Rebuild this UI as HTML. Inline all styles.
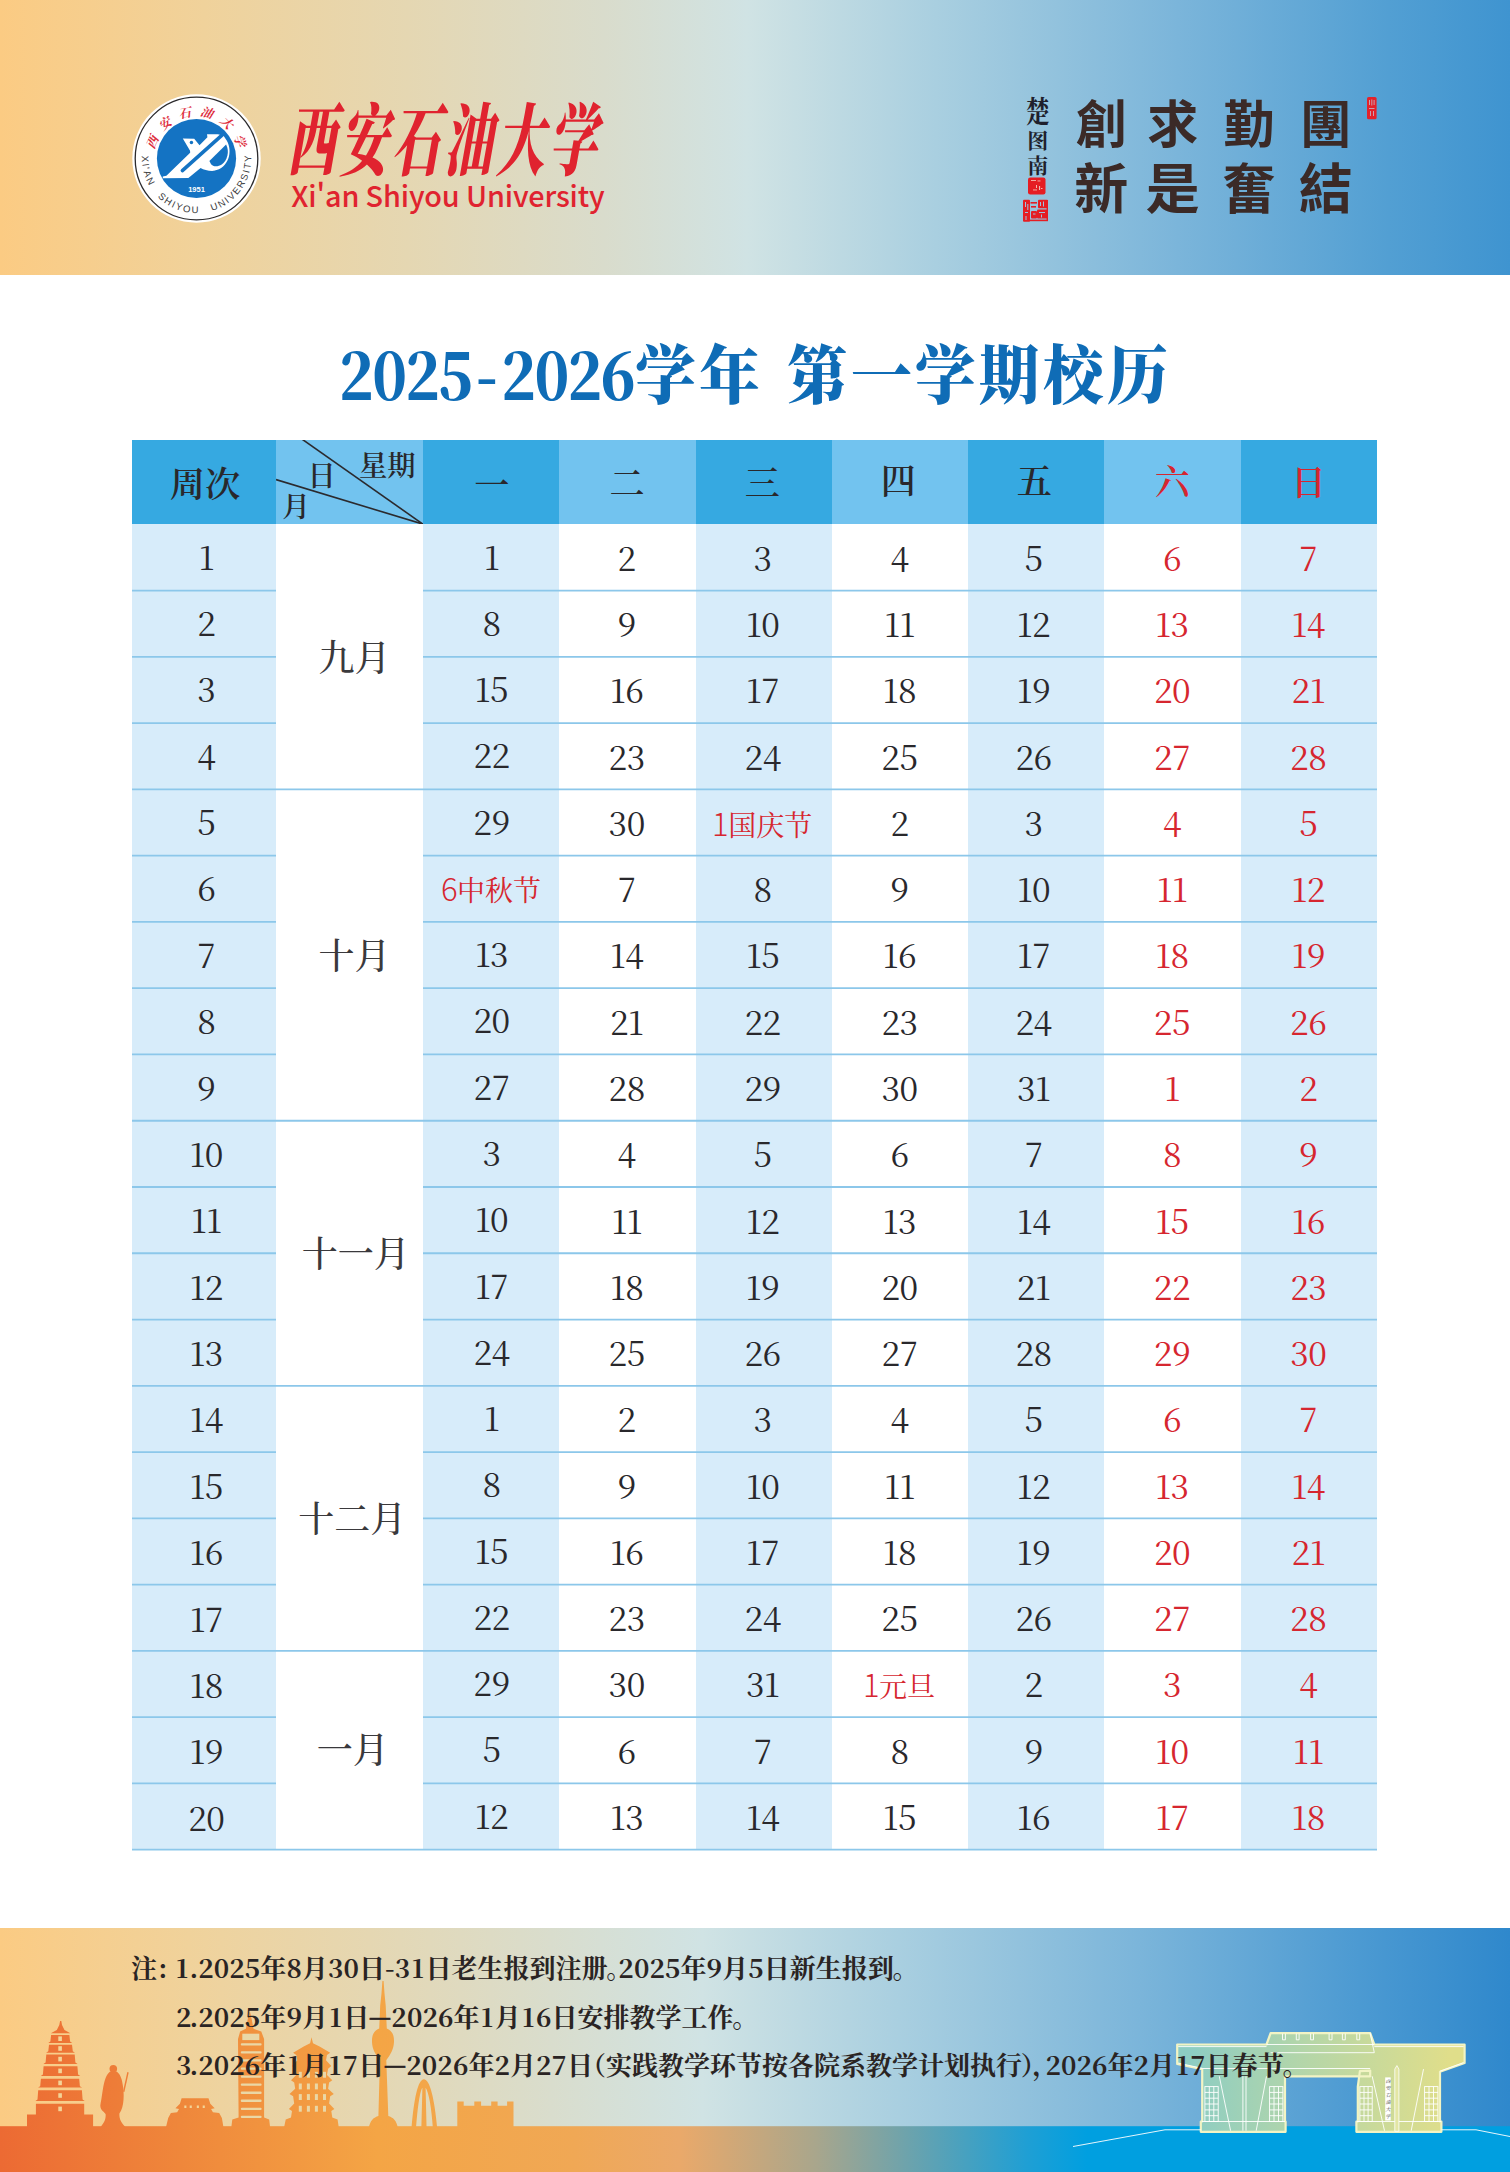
<!DOCTYPE html>
<html lang="zh-CN">
<head>
<meta charset="utf-8">
<title>西安石油大学 2025-2026学年 第一学期校历</title>
<style>
html,body{margin:0;padding:0;}
body{width:1510px;height:2172px;position:relative;overflow:hidden;background:#fff;
 font-family:"Noto Serif CJK SC","Liberation Serif",serif;color:#231f20;}
.abs{position:absolute;}
#banner{left:0;top:0;width:1510px;height:274.5px;background:linear-gradient(90deg,#fbcb83 0%,#f0d29b 13.5%,#e5d7b2 27%,#d9dccc 40%,#d0e3e4 49.5%,#a9cfe0 62%,#7bb5da 78%,#529fd3 92%,#3f94d0 100%);}
#foot{left:0;top:1928px;width:1510px;height:244px;background:linear-gradient(90deg,#fbcb83 0%,#f0d29b 12.5%,#e5d7b2 24.5%,#d9ddcd 36.5%,#d0e3e4 46.5%,#a9cfe0 59.5%,#7bb5da 75.5%,#4c9ad2 90%,#2f88cc 100%);}
#title{left:0;top:320px;width:1510px;height:100px;color:#0f6cb6;font-weight:900;white-space:nowrap;}
#title span{position:absolute;top:0;height:100px;line-height:100px;transform-origin:0 50%;white-space:pre;}
#title .t1{left:338.5px;top:1.6px;font-size:64px;letter-spacing:-1.9px;transform:scaleX(0.888);}
#title .t1 .hy{position:static;margin:0 6px 0 5px;}
#title .t2{left:635px;font-size:64px;letter-spacing:3.3px;transform:scaleX(0.95);}
#title .t3{left:787px;font-size:64px;letter-spacing:3.3px;transform:scaleX(0.95);}
.c{position:absolute;text-align:center;white-space:nowrap;}
.d{font-size:33.4px;font-weight:400;color:#29282c;letter-spacing:-0.5px;text-indent:-0.5px;}
.h{font-size:35px;font-weight:600;color:#29282c;}
.w{font-size:35.3px;font-weight:600;}
.m{font-size:36px;font-weight:500;color:#3a393c;}
.r{color:#d6262f;}
.hn{font-family:"Noto Sans CJK SC","Liberation Sans",sans-serif;font-weight:300;font-size:31px;}
.hc{font-size:28px;font-weight:400;letter-spacing:0;}
.mt{width:80px;height:80px;line-height:80px;text-align:center;font-size:51px;font-weight:700;color:#3b2a27;font-family:"Noto Sans CJK TC","Noto Sans CJK SC","Liberation Sans",sans-serif;}
.sg{width:30px;height:30px;line-height:30px;text-align:center;font-size:23px;font-weight:700;color:#1f1f2c;}
.note{position:absolute;left:176px;font-size:26px;font-weight:700;color:#2a2423;white-space:nowrap;line-height:40px;height:40px;}
.note .n{letter-spacing:0.1px;}
.note .o{display:inline-block;width:15.2px;text-align:center;}
.note .k{font-weight:700;-webkit-text-stroke:0.5px #2a2423;display:inline-block;transform:scaleX(0.93) translateY(-1.1px);margin:0 -1px;}
.note .p{display:inline-block;}
</style>
</head>
<body>
<div id="banner" class="abs"></div>

<svg class="abs" style="left:126px;top:88px" width="141" height="141" viewBox="126 88 141 141">
<circle cx="196.5" cy="158.5" r="64.2" fill="#ffffff"/>
<circle cx="196.5" cy="158.5" r="61.3" fill="#ffffff" stroke="#2b2a2c" stroke-width="1.3"/>
<circle cx="196.5" cy="158.5" r="39.6" fill="#1473c3"/>
<g transform="translate(155 118) scale(0.05563)">
<path fill="#ffffff" d="M500,368 L705,375 L800,492 L942,345 L935,290 L1132,290 L1180,305 L1232,320 L1292,410 C1400,600 1330,900 1060,950 C960,955 880,935 820,900 L600,1078 L140,1082 L140,1052 L205,1040 L632,625 L630,590 Z"/>
<path fill="none" stroke="#1473c3" stroke-width="64" stroke-linecap="round" d="M492,945 L1215,300"/>
<path fill="#1473c3" d="M978,772 L1278,478 C1345,600 1300,770 1200,835 C1130,880 1040,875 1008,830 Z"/>
<circle cx="655" cy="440" r="31" fill="#1473c3"/>
</g>
<text x="196.5" y="192.3" text-anchor="middle" font-family="'Liberation Sans',sans-serif" font-weight="700" font-size="7.5" fill="#ffffff">1951</text>
<path id="arcb" fill="none" d="M143.76,144.37 A54.6,54.6 0 1 0 249.24,144.37"/>
<path id="arct" fill="none" d="M154.10,158.50 A42.4,42.4 0 0 1 238.90,158.50"/>
<text font-family="'Liberation Sans',sans-serif" font-size="9.6" fill="#3a3a3c" letter-spacing="1.68" word-spacing="7.8"><textPath href="#arcb" startOffset="100.91" text-anchor="middle">XI'AN SHIYOU UNIVERSITY</textPath></text>
<text font-family="'Noto Serif CJK SC','Liberation Serif',serif" font-size="12.4" font-weight="700" font-style="italic" fill="#dd2a3a" letter-spacing="7.9"><textPath href="#arct" startOffset="69.20" text-anchor="middle">西安石油大学</textPath></text>
</svg>
<div class="abs" id="uname" style="left:292.5px;top:85.5px;width:330px;height:100px;line-height:100px;font-size:48px;font-weight:900;color:#e0232f;white-space:nowrap;transform-origin:0 50%;transform:skewX(-10deg) scaleY(1.64);letter-spacing:4.2px;">西安石油大学</div>
<div class="abs" id="ename" style="left:291.3px;top:175.2px;width:330px;height:40px;line-height:40px;font-size:28.8px;font-weight:500;letter-spacing:-0.13px;font-family:'Noto Sans CJK SC','Liberation Sans',sans-serif;color:#e0232f;white-space:nowrap;">Xi'an Shiyou University</div>
<div class="abs mt" style="left:1061.3px;top:81px">創</div>
<div class="abs mt" style="left:1132.8px;top:81px">求</div>
<div class="abs mt" style="left:1209.0px;top:81px">勤</div>
<div class="abs mt" style="left:1285.8px;top:81px">團</div>
<div class="abs mt" style="left:1061.3px;top:145.5px;font-size:54px">新</div>
<div class="abs mt" style="left:1132.8px;top:145.5px;font-size:54px">是</div>
<div class="abs mt" style="left:1209.0px;top:145.5px;font-size:54px">奮</div>
<div class="abs mt" style="left:1285.8px;top:145.5px;font-size:54px">結</div>
<div class="abs sg" style="left:1022.8px;top:94.2px;font-size:24px;transform:scaleY(1.25)">楚</div>
<div class="abs sg" style="left:1022.8px;top:123.5px;font-size:21px;transform:scaleY(1.0)">图</div>
<div class="abs sg" style="left:1022.8px;top:149.2px;font-size:21px;transform:scaleY(1.0)">南</div>
<svg class="abs" style="left:1020px;top:175px" width="32" height="50" viewBox="1020 175 32 50"><rect x="1028" y="177.4" width="17.5" height="17" rx="2.2" fill="#e51d23"/><g fill="#f3b9b0"><rect x="1031" y="180" width="5" height="0.9"/><rect x="1037.5" y="180.5" width="3" height="0.9"/><rect x="1036" y="185" width="1" height="3"/><rect x="1039" y="186" width="1.1" height="4"/><rect x="1033" y="189.5" width="4" height="0.9"/><rect x="1041" y="188" width="1.5" height="1"/></g><g fill="#e51d23"><rect x="1023" y="199.8" width="7" height="22" rx="1"/><rect x="1038" y="199.8" width="10" height="8.5" rx="1"/><rect x="1037" y="209.5" width="11" height="9" rx="1"/><rect x="1031" y="211" width="6" height="7.5" rx="1"/><rect x="1030.5" y="202" width="6.5" height="1.6"/><rect x="1031" y="206" width="5" height="1.6"/><rect x="1029" y="219.6" width="19" height="1.6"/><rect x="1046.6" y="200" width="1.4" height="21"/></g><g fill="#9cc3e0"><rect x="1025" y="202" width="1" height="5"/><rect x="1027.3" y="204" width="1" height="6"/><rect x="1025" y="212" width="3" height="1"/><rect x="1025.5" y="216" width="1" height="4"/><rect x="1040" y="202" width="1" height="4"/><rect x="1043" y="201.5" width="1" height="5"/><rect x="1039" y="212" width="6" height="1"/><rect x="1041" y="214.5" width="1" height="3"/><rect x="1033" y="213.5" width="2.5" height="1"/></g></svg>
<svg class="abs" style="left:1364px;top:95px" width="16" height="28" viewBox="1364 95 16 28"><rect x="1367" y="97" width="9.6" height="22.3" rx="1.6" fill="#e3222b"/><g fill="#c9a0b0"><rect x="1369" y="100" width="1" height="5"/><rect x="1371.3" y="99.5" width="1" height="6"/><rect x="1373.6" y="100" width="1" height="5"/><rect x="1369" y="108" width="5.5" height="1"/><rect x="1370" y="111" width="1" height="5"/><rect x="1373" y="111" width="1" height="5"/></g></svg>
<div id="title" class="abs"><span class="t1">2025<span class="hy">-</span>2026</span><span class="t2">学年</span> <span class="t3">第一学期校历</span></div>
<div id="tbl">
<div class="abs" style="left:132px;top:440px;width:144px;height:84px;background:#36a9e1;"></div>
<div class="abs" style="left:276px;top:440px;width:147px;height:84px;background:#72c3ef;"></div>
<div class="abs" style="left:423px;top:440px;width:136px;height:84px;background:#36a9e1;"></div>
<div class="abs" style="left:559px;top:440px;width:137px;height:84px;background:#72c3ef;"></div>
<div class="abs" style="left:696px;top:440px;width:135.5px;height:84px;background:#36a9e1;"></div>
<div class="abs" style="left:831.5px;top:440px;width:136.5px;height:84px;background:#72c3ef;"></div>
<div class="abs" style="left:968px;top:440px;width:136px;height:84px;background:#36a9e1;"></div>
<div class="abs" style="left:1104px;top:440px;width:136.5px;height:84px;background:#72c3ef;"></div>
<div class="abs" style="left:1240.5px;top:440px;width:136.5px;height:84px;background:#36a9e1;"></div>
<div class="abs" style="left:132px;top:523.8px;width:144px;height:1325.8px;background:#d7ecfa;"></div>
<div class="abs" style="left:423px;top:523.8px;width:136px;height:1325.8px;background:#d7ecfa;"></div>
<div class="abs" style="left:696px;top:523.8px;width:135.5px;height:1325.8px;background:#d7ecfa;"></div>
<div class="abs" style="left:968px;top:523.8px;width:136px;height:1325.8px;background:#d7ecfa;"></div>
<div class="abs" style="left:1240.5px;top:523.8px;width:136.5px;height:1325.8px;background:#d7ecfa;"></div>
<svg class="abs" style="left:132px;top:0" width="1245" height="1860" viewBox="132 0 1245 1860"><g stroke="#8cc7ea" stroke-width="1.8" fill="none">
<path d="M132,590.57H276M423,590.57H1377"/>
<path d="M132,656.84H276M423,656.84H1377"/>
<path d="M132,723.11H276M423,723.11H1377"/>
<path d="M132,789.38H1377"/>
<path d="M132,855.65H276M423,855.65H1377"/>
<path d="M132,921.92H276M423,921.92H1377"/>
<path d="M132,988.19H276M423,988.19H1377"/>
<path d="M132,1054.46H276M423,1054.46H1377"/>
<path d="M132,1120.73H1377"/>
<path d="M132,1187.00H276M423,1187.00H1377"/>
<path d="M132,1253.27H276M423,1253.27H1377"/>
<path d="M132,1319.54H276M423,1319.54H1377"/>
<path d="M132,1385.81H1377"/>
<path d="M132,1452.08H276M423,1452.08H1377"/>
<path d="M132,1518.35H276M423,1518.35H1377"/>
<path d="M132,1584.62H276M423,1584.62H1377"/>
<path d="M132,1650.89H1377"/>
<path d="M132,1717.16H276M423,1717.16H1377"/>
<path d="M132,1783.43H276M423,1783.43H1377"/>
<path d="M132,1849.70H1377"/>
</g></svg>
<div class="c h w" style="left:133px;top:439.5px;width:144px;height:84.2px;line-height:84.2px">周次</div>
<div class="c h" style="left:423.7px;top:440.9px;width:136px;height:84.2px;line-height:84.2px">一</div>
<div class="c h" style="left:558.5px;top:438.9px;width:137px;height:84.2px;line-height:84.2px">二</div>
<div class="c h" style="left:694.5px;top:439.1px;width:135.5px;height:84.2px;line-height:84.2px">三</div>
<div class="c h" style="left:830px;top:437.1px;width:136.5px;height:84.2px;line-height:84.2px">四</div>
<div class="c h" style="left:966.2px;top:437.1px;width:136px;height:84.2px;line-height:84.2px">五</div>
<div class="c h r" style="left:1103.9px;top:437.6px;width:136.5px;height:84.2px;line-height:84.2px">六</div>
<div class="c h r" style="left:1240.3px;top:438.2px;width:136.5px;height:84.2px;line-height:84.2px">日</div>
<svg class="abs" style="left:276px;top:440px" width="147.0" height="84.2" viewBox="0 0 147.0 84.2">
<line x1="25.8" y1="-1" x2="147.0" y2="84.2" stroke="#2b2a2e" stroke-width="1.6"/>
<line x1="0" y1="39.6" x2="147.0" y2="84.2" stroke="#2b2a2e" stroke-width="1.6"/>
<text x="83" y="36.3" font-size="28.3" font-weight="600" fill="#29282c" font-family="'Noto Serif CJK SC','Liberation Serif',serif">星期</text>
<text x="31.5" y="46" font-size="28.3" font-weight="600" fill="#29282c" font-family="'Noto Serif CJK SC','Liberation Serif',serif">日</text>
<text x="6" y="77" font-size="28.3" font-weight="600" fill="#29282c" font-family="'Noto Serif CJK SC','Liberation Serif',serif">月</text>
</svg>
<div class="c d" style="left:134.5px;top:522.6px;width:144px;height:66.27px;line-height:66.27px">1</div>
<div class="c d" style="left:423.8px;top:522.6px;width:136px;height:66.27px;line-height:66.27px">1</div>
<div class="c d" style="left:558.4px;top:523.8px;width:137px;height:66.27px;line-height:66.27px">2</div>
<div class="c d" style="left:695.1px;top:523.8px;width:135.5px;height:66.27px;line-height:66.27px">3</div>
<div class="c d" style="left:831.5px;top:523.8px;width:136.5px;height:66.27px;line-height:66.27px">4</div>
<div class="c d" style="left:965.8px;top:523.8px;width:136px;height:66.27px;line-height:66.27px">5</div>
<div class="c d r" style="left:1104px;top:523.8px;width:136.5px;height:66.27px;line-height:66.27px">6</div>
<div class="c d r" style="left:1240.25px;top:523.8px;width:136.5px;height:66.27px;line-height:66.27px">7</div>
<div class="c d" style="left:134.5px;top:588.97px;width:144px;height:66.27px;line-height:66.27px">2</div>
<div class="c d" style="left:423.8px;top:588.87px;width:136px;height:66.27px;line-height:66.27px">8</div>
<div class="c d" style="left:558.4px;top:590.07px;width:137px;height:66.27px;line-height:66.27px">9</div>
<div class="c d" style="left:695.1px;top:590.07px;width:135.5px;height:66.27px;line-height:66.27px">10</div>
<div class="c d" style="left:831.5px;top:590.07px;width:136.5px;height:66.27px;line-height:66.27px">11</div>
<div class="c d" style="left:965.8px;top:590.07px;width:136px;height:66.27px;line-height:66.27px">12</div>
<div class="c d r" style="left:1104px;top:590.07px;width:136.5px;height:66.27px;line-height:66.27px">13</div>
<div class="c d r" style="left:1240.25px;top:590.07px;width:136.5px;height:66.27px;line-height:66.27px">14</div>
<div class="c d" style="left:134.5px;top:655.34px;width:144px;height:66.27px;line-height:66.27px">3</div>
<div class="c d" style="left:423.8px;top:655.14px;width:136px;height:66.27px;line-height:66.27px">15</div>
<div class="c d" style="left:558.4px;top:656.34px;width:137px;height:66.27px;line-height:66.27px">16</div>
<div class="c d" style="left:695.1px;top:656.34px;width:135.5px;height:66.27px;line-height:66.27px">17</div>
<div class="c d" style="left:831.5px;top:656.34px;width:136.5px;height:66.27px;line-height:66.27px">18</div>
<div class="c d" style="left:965.8px;top:656.34px;width:136px;height:66.27px;line-height:66.27px">19</div>
<div class="c d r" style="left:1104px;top:656.34px;width:136.5px;height:66.27px;line-height:66.27px">20</div>
<div class="c d r" style="left:1240.25px;top:656.34px;width:136.5px;height:66.27px;line-height:66.27px">21</div>
<div class="c d" style="left:134.5px;top:721.71px;width:144px;height:66.27px;line-height:66.27px">4</div>
<div class="c d" style="left:423.8px;top:721.41px;width:136px;height:66.27px;line-height:66.27px">22</div>
<div class="c d" style="left:558.4px;top:722.61px;width:137px;height:66.27px;line-height:66.27px">23</div>
<div class="c d" style="left:695.1px;top:722.61px;width:135.5px;height:66.27px;line-height:66.27px">24</div>
<div class="c d" style="left:831.5px;top:722.61px;width:136.5px;height:66.27px;line-height:66.27px">25</div>
<div class="c d" style="left:965.8px;top:722.61px;width:136px;height:66.27px;line-height:66.27px">26</div>
<div class="c d r" style="left:1104px;top:722.61px;width:136.5px;height:66.27px;line-height:66.27px">27</div>
<div class="c d r" style="left:1240.25px;top:722.61px;width:136.5px;height:66.27px;line-height:66.27px">28</div>
<div class="c d" style="left:134.5px;top:788.08px;width:144px;height:66.27px;line-height:66.27px">5</div>
<div class="c d" style="left:423.8px;top:787.68px;width:136px;height:66.27px;line-height:66.27px">29</div>
<div class="c d" style="left:558.4px;top:788.88px;width:137px;height:66.27px;line-height:66.27px">30</div>
<div class="c d r" style="left:694.6px;top:788.88px;width:135.5px;height:66.27px;line-height:66.27px"><span class="hn">1</span><span class="hc">国庆节</span></div>
<div class="c d" style="left:831.5px;top:788.88px;width:136.5px;height:66.27px;line-height:66.27px">2</div>
<div class="c d" style="left:965.8px;top:788.88px;width:136px;height:66.27px;line-height:66.27px">3</div>
<div class="c d r" style="left:1104px;top:788.88px;width:136.5px;height:66.27px;line-height:66.27px">4</div>
<div class="c d r" style="left:1240.25px;top:788.88px;width:136.5px;height:66.27px;line-height:66.27px">5</div>
<div class="c d" style="left:134.5px;top:854.45px;width:144px;height:66.27px;line-height:66.27px">6</div>
<div class="c d r" style="left:423.3px;top:853.95px;width:136px;height:66.27px;line-height:66.27px"><span class="hn">6</span><span class="hc">中秋节</span></div>
<div class="c d" style="left:558.4px;top:855.15px;width:137px;height:66.27px;line-height:66.27px">7</div>
<div class="c d" style="left:695.1px;top:855.15px;width:135.5px;height:66.27px;line-height:66.27px">8</div>
<div class="c d" style="left:831.5px;top:855.15px;width:136.5px;height:66.27px;line-height:66.27px">9</div>
<div class="c d" style="left:965.8px;top:855.15px;width:136px;height:66.27px;line-height:66.27px">10</div>
<div class="c d r" style="left:1104px;top:855.15px;width:136.5px;height:66.27px;line-height:66.27px">11</div>
<div class="c d r" style="left:1240.25px;top:855.15px;width:136.5px;height:66.27px;line-height:66.27px">12</div>
<div class="c d" style="left:134.5px;top:920.82px;width:144px;height:66.27px;line-height:66.27px">7</div>
<div class="c d" style="left:423.8px;top:920.22px;width:136px;height:66.27px;line-height:66.27px">13</div>
<div class="c d" style="left:558.4px;top:921.42px;width:137px;height:66.27px;line-height:66.27px">14</div>
<div class="c d" style="left:695.1px;top:921.42px;width:135.5px;height:66.27px;line-height:66.27px">15</div>
<div class="c d" style="left:831.5px;top:921.42px;width:136.5px;height:66.27px;line-height:66.27px">16</div>
<div class="c d" style="left:965.8px;top:921.42px;width:136px;height:66.27px;line-height:66.27px">17</div>
<div class="c d r" style="left:1104px;top:921.42px;width:136.5px;height:66.27px;line-height:66.27px">18</div>
<div class="c d r" style="left:1240.25px;top:921.42px;width:136.5px;height:66.27px;line-height:66.27px">19</div>
<div class="c d" style="left:134.5px;top:987.19px;width:144px;height:66.27px;line-height:66.27px">8</div>
<div class="c d" style="left:423.8px;top:986.49px;width:136px;height:66.27px;line-height:66.27px">20</div>
<div class="c d" style="left:558.4px;top:987.69px;width:137px;height:66.27px;line-height:66.27px">21</div>
<div class="c d" style="left:695.1px;top:987.69px;width:135.5px;height:66.27px;line-height:66.27px">22</div>
<div class="c d" style="left:831.5px;top:987.69px;width:136.5px;height:66.27px;line-height:66.27px">23</div>
<div class="c d" style="left:965.8px;top:987.69px;width:136px;height:66.27px;line-height:66.27px">24</div>
<div class="c d r" style="left:1104px;top:987.69px;width:136.5px;height:66.27px;line-height:66.27px">25</div>
<div class="c d r" style="left:1240.25px;top:987.69px;width:136.5px;height:66.27px;line-height:66.27px">26</div>
<div class="c d" style="left:134.5px;top:1053.56px;width:144px;height:66.27px;line-height:66.27px">9</div>
<div class="c d" style="left:423.8px;top:1052.76px;width:136px;height:66.27px;line-height:66.27px">27</div>
<div class="c d" style="left:558.4px;top:1053.96px;width:137px;height:66.27px;line-height:66.27px">28</div>
<div class="c d" style="left:695.1px;top:1053.96px;width:135.5px;height:66.27px;line-height:66.27px">29</div>
<div class="c d" style="left:831.5px;top:1053.96px;width:136.5px;height:66.27px;line-height:66.27px">30</div>
<div class="c d" style="left:965.8px;top:1053.96px;width:136px;height:66.27px;line-height:66.27px">31</div>
<div class="c d r" style="left:1104px;top:1053.96px;width:136.5px;height:66.27px;line-height:66.27px">1</div>
<div class="c d r" style="left:1240.25px;top:1053.96px;width:136.5px;height:66.27px;line-height:66.27px">2</div>
<div class="c d" style="left:134.5px;top:1119.93px;width:144px;height:66.27px;line-height:66.27px">10</div>
<div class="c d" style="left:423.8px;top:1119.03px;width:136px;height:66.27px;line-height:66.27px">3</div>
<div class="c d" style="left:558.4px;top:1120.23px;width:137px;height:66.27px;line-height:66.27px">4</div>
<div class="c d" style="left:695.1px;top:1120.23px;width:135.5px;height:66.27px;line-height:66.27px">5</div>
<div class="c d" style="left:831.5px;top:1120.23px;width:136.5px;height:66.27px;line-height:66.27px">6</div>
<div class="c d" style="left:965.8px;top:1120.23px;width:136px;height:66.27px;line-height:66.27px">7</div>
<div class="c d r" style="left:1104px;top:1120.23px;width:136.5px;height:66.27px;line-height:66.27px">8</div>
<div class="c d r" style="left:1240.25px;top:1120.23px;width:136.5px;height:66.27px;line-height:66.27px">9</div>
<div class="c d" style="left:134.5px;top:1186.3px;width:144px;height:66.27px;line-height:66.27px">11</div>
<div class="c d" style="left:423.8px;top:1185.3px;width:136px;height:66.27px;line-height:66.27px">10</div>
<div class="c d" style="left:558.4px;top:1186.5px;width:137px;height:66.27px;line-height:66.27px">11</div>
<div class="c d" style="left:695.1px;top:1186.5px;width:135.5px;height:66.27px;line-height:66.27px">12</div>
<div class="c d" style="left:831.5px;top:1186.5px;width:136.5px;height:66.27px;line-height:66.27px">13</div>
<div class="c d" style="left:965.8px;top:1186.5px;width:136px;height:66.27px;line-height:66.27px">14</div>
<div class="c d r" style="left:1104px;top:1186.5px;width:136.5px;height:66.27px;line-height:66.27px">15</div>
<div class="c d r" style="left:1240.25px;top:1186.5px;width:136.5px;height:66.27px;line-height:66.27px">16</div>
<div class="c d" style="left:134.5px;top:1252.67px;width:144px;height:66.27px;line-height:66.27px">12</div>
<div class="c d" style="left:423.8px;top:1251.57px;width:136px;height:66.27px;line-height:66.27px">17</div>
<div class="c d" style="left:558.4px;top:1252.77px;width:137px;height:66.27px;line-height:66.27px">18</div>
<div class="c d" style="left:695.1px;top:1252.77px;width:135.5px;height:66.27px;line-height:66.27px">19</div>
<div class="c d" style="left:831.5px;top:1252.77px;width:136.5px;height:66.27px;line-height:66.27px">20</div>
<div class="c d" style="left:965.8px;top:1252.77px;width:136px;height:66.27px;line-height:66.27px">21</div>
<div class="c d r" style="left:1104px;top:1252.77px;width:136.5px;height:66.27px;line-height:66.27px">22</div>
<div class="c d r" style="left:1240.25px;top:1252.77px;width:136.5px;height:66.27px;line-height:66.27px">23</div>
<div class="c d" style="left:134.5px;top:1319.04px;width:144px;height:66.27px;line-height:66.27px">13</div>
<div class="c d" style="left:423.8px;top:1317.84px;width:136px;height:66.27px;line-height:66.27px">24</div>
<div class="c d" style="left:558.4px;top:1319.04px;width:137px;height:66.27px;line-height:66.27px">25</div>
<div class="c d" style="left:695.1px;top:1319.04px;width:135.5px;height:66.27px;line-height:66.27px">26</div>
<div class="c d" style="left:831.5px;top:1319.04px;width:136.5px;height:66.27px;line-height:66.27px">27</div>
<div class="c d" style="left:965.8px;top:1319.04px;width:136px;height:66.27px;line-height:66.27px">28</div>
<div class="c d r" style="left:1104px;top:1319.04px;width:136.5px;height:66.27px;line-height:66.27px">29</div>
<div class="c d r" style="left:1240.25px;top:1319.04px;width:136.5px;height:66.27px;line-height:66.27px">30</div>
<div class="c d" style="left:134.5px;top:1385.41px;width:144px;height:66.27px;line-height:66.27px">14</div>
<div class="c d" style="left:423.8px;top:1384.11px;width:136px;height:66.27px;line-height:66.27px">1</div>
<div class="c d" style="left:558.4px;top:1385.31px;width:137px;height:66.27px;line-height:66.27px">2</div>
<div class="c d" style="left:695.1px;top:1385.31px;width:135.5px;height:66.27px;line-height:66.27px">3</div>
<div class="c d" style="left:831.5px;top:1385.31px;width:136.5px;height:66.27px;line-height:66.27px">4</div>
<div class="c d" style="left:965.8px;top:1385.31px;width:136px;height:66.27px;line-height:66.27px">5</div>
<div class="c d r" style="left:1104px;top:1385.31px;width:136.5px;height:66.27px;line-height:66.27px">6</div>
<div class="c d r" style="left:1240.25px;top:1385.31px;width:136.5px;height:66.27px;line-height:66.27px">7</div>
<div class="c d" style="left:134.5px;top:1451.78px;width:144px;height:66.27px;line-height:66.27px">15</div>
<div class="c d" style="left:423.8px;top:1450.38px;width:136px;height:66.27px;line-height:66.27px">8</div>
<div class="c d" style="left:558.4px;top:1451.58px;width:137px;height:66.27px;line-height:66.27px">9</div>
<div class="c d" style="left:695.1px;top:1451.58px;width:135.5px;height:66.27px;line-height:66.27px">10</div>
<div class="c d" style="left:831.5px;top:1451.58px;width:136.5px;height:66.27px;line-height:66.27px">11</div>
<div class="c d" style="left:965.8px;top:1451.58px;width:136px;height:66.27px;line-height:66.27px">12</div>
<div class="c d r" style="left:1104px;top:1451.58px;width:136.5px;height:66.27px;line-height:66.27px">13</div>
<div class="c d r" style="left:1240.25px;top:1451.58px;width:136.5px;height:66.27px;line-height:66.27px">14</div>
<div class="c d" style="left:134.5px;top:1518.15px;width:144px;height:66.27px;line-height:66.27px">16</div>
<div class="c d" style="left:423.8px;top:1516.65px;width:136px;height:66.27px;line-height:66.27px">15</div>
<div class="c d" style="left:558.4px;top:1517.85px;width:137px;height:66.27px;line-height:66.27px">16</div>
<div class="c d" style="left:695.1px;top:1517.85px;width:135.5px;height:66.27px;line-height:66.27px">17</div>
<div class="c d" style="left:831.5px;top:1517.85px;width:136.5px;height:66.27px;line-height:66.27px">18</div>
<div class="c d" style="left:965.8px;top:1517.85px;width:136px;height:66.27px;line-height:66.27px">19</div>
<div class="c d r" style="left:1104px;top:1517.85px;width:136.5px;height:66.27px;line-height:66.27px">20</div>
<div class="c d r" style="left:1240.25px;top:1517.85px;width:136.5px;height:66.27px;line-height:66.27px">21</div>
<div class="c d" style="left:134.5px;top:1584.52px;width:144px;height:66.27px;line-height:66.27px">17</div>
<div class="c d" style="left:423.8px;top:1582.92px;width:136px;height:66.27px;line-height:66.27px">22</div>
<div class="c d" style="left:558.4px;top:1584.12px;width:137px;height:66.27px;line-height:66.27px">23</div>
<div class="c d" style="left:695.1px;top:1584.12px;width:135.5px;height:66.27px;line-height:66.27px">24</div>
<div class="c d" style="left:831.5px;top:1584.12px;width:136.5px;height:66.27px;line-height:66.27px">25</div>
<div class="c d" style="left:965.8px;top:1584.12px;width:136px;height:66.27px;line-height:66.27px">26</div>
<div class="c d r" style="left:1104px;top:1584.12px;width:136.5px;height:66.27px;line-height:66.27px">27</div>
<div class="c d r" style="left:1240.25px;top:1584.12px;width:136.5px;height:66.27px;line-height:66.27px">28</div>
<div class="c d" style="left:134.5px;top:1650.89px;width:144px;height:66.27px;line-height:66.27px">18</div>
<div class="c d" style="left:423.8px;top:1649.19px;width:136px;height:66.27px;line-height:66.27px">29</div>
<div class="c d" style="left:558.4px;top:1650.39px;width:137px;height:66.27px;line-height:66.27px">30</div>
<div class="c d" style="left:695.1px;top:1650.39px;width:135.5px;height:66.27px;line-height:66.27px">31</div>
<div class="c d r" style="left:831px;top:1650.39px;width:136.5px;height:66.27px;line-height:66.27px"><span class="hn">1</span><span class="hc">元旦</span></div>
<div class="c d" style="left:965.8px;top:1650.39px;width:136px;height:66.27px;line-height:66.27px">2</div>
<div class="c d r" style="left:1104px;top:1650.39px;width:136.5px;height:66.27px;line-height:66.27px">3</div>
<div class="c d r" style="left:1240.25px;top:1650.39px;width:136.5px;height:66.27px;line-height:66.27px">4</div>
<div class="c d" style="left:134.5px;top:1717.26px;width:144px;height:66.27px;line-height:66.27px">19</div>
<div class="c d" style="left:423.8px;top:1715.46px;width:136px;height:66.27px;line-height:66.27px">5</div>
<div class="c d" style="left:558.4px;top:1716.66px;width:137px;height:66.27px;line-height:66.27px">6</div>
<div class="c d" style="left:695.1px;top:1716.66px;width:135.5px;height:66.27px;line-height:66.27px">7</div>
<div class="c d" style="left:831.5px;top:1716.66px;width:136.5px;height:66.27px;line-height:66.27px">8</div>
<div class="c d" style="left:965.8px;top:1716.66px;width:136px;height:66.27px;line-height:66.27px">9</div>
<div class="c d r" style="left:1104px;top:1716.66px;width:136.5px;height:66.27px;line-height:66.27px">10</div>
<div class="c d r" style="left:1240.25px;top:1716.66px;width:136.5px;height:66.27px;line-height:66.27px">11</div>
<div class="c d" style="left:134.5px;top:1783.63px;width:144px;height:66.27px;line-height:66.27px">20</div>
<div class="c d" style="left:423.8px;top:1781.73px;width:136px;height:66.27px;line-height:66.27px">12</div>
<div class="c d" style="left:558.4px;top:1782.93px;width:137px;height:66.27px;line-height:66.27px">13</div>
<div class="c d" style="left:695.1px;top:1782.93px;width:135.5px;height:66.27px;line-height:66.27px">14</div>
<div class="c d" style="left:831.5px;top:1782.93px;width:136.5px;height:66.27px;line-height:66.27px">15</div>
<div class="c d" style="left:965.8px;top:1782.93px;width:136px;height:66.27px;line-height:66.27px">16</div>
<div class="c d r" style="left:1104px;top:1782.93px;width:136.5px;height:66.27px;line-height:66.27px">17</div>
<div class="c d r" style="left:1240.25px;top:1782.93px;width:136.5px;height:66.27px;line-height:66.27px">18</div>
<div class="c m" style="left:281px;top:522.9px;width:147px;height:265.08px;line-height:265.08px">九月</div>
<div class="c m" style="left:281px;top:787.98px;width:147px;height:331.35px;line-height:331.35px">十月</div>
<div class="c m" style="left:282.2px;top:1119.33px;width:147px;height:265.08px;line-height:265.08px">十一月</div>
<div class="c m" style="left:278.8px;top:1384.41px;width:147px;height:265.08px;line-height:265.08px">十二月</div>
<div class="c m" style="left:279.2px;top:1649.49px;width:147px;height:198.81px;line-height:198.81px">一月</div>
</div>
<div id="foot" class="abs"></div>
<svg class="abs" style="left:0;top:1970px" width="1510" height="202" viewBox="0 1970 1510 202">
<defs>
<linearGradient id="gb" gradientUnits="userSpaceOnUse" x1="0" y1="0" x2="1510" y2="0">
<stop offset="0" stop-color="#ec6a33"/><stop offset="0.12" stop-color="#ef873b"/><stop offset="0.25" stop-color="#f4a545"/>
<stop offset="0.38" stop-color="#f0a855"/><stop offset="0.45" stop-color="#eaa96a"/><stop offset="0.54" stop-color="#a9a68c"/>
<stop offset="0.62" stop-color="#5aa2b6"/><stop offset="0.68" stop-color="#1f9fd4"/><stop offset="0.72" stop-color="#009fe0"/><stop offset="1" stop-color="#009fe0"/>
</linearGradient>
<linearGradient id="gg" gradientUnits="userSpaceOnUse" x1="1190" y1="0" x2="1450" y2="0">
<stop offset="0" stop-color="#8dcdc3"/><stop offset="0.45" stop-color="#b5d6a8"/><stop offset="1" stop-color="#e0de8a"/>
</linearGradient>
</defs>
<rect x="0" y="2126.2" width="1510" height="46" fill="url(#gb)"/>
<g fill="url(#gb)">
<path d="M27,2128.7 L27,2114.4 L35.9,2114.4 L35.9,2103.7 L84.2,2103.7 L84.2,2114.4 L93.1,2114.4 L93.1,2128.7Z"/>
<path d="M38.2,2090.3 L81.9,2090.3 L82.6,2099.6 L84.7,2101 L35.4,2101 L37.5,2099.6Z"/>
<path d="M40.9,2078.7 L79.2,2078.7 L79.9,2086.2 L82.1,2087.6 L38.1,2087.6 L40.2,2086.2Z"/>
<path d="M43.6,2066.2 L77.4,2066.2 L78.1,2074.6 L80.3,2076 L40.8,2076 L42.9,2074.6Z"/>
<path d="M46.3,2054.5 L74.7,2054.5 L75.4,2062.6 L77.6,2064 L43.4,2064 L45.6,2062.6Z"/>
<path d="M49,2044.7 L72,2044.7 L72.8,2051.3 L74.9,2052.7 L46.1,2052.7 L48.3,2051.3Z"/>
<path d="M51.1,2034.9 L69.4,2034.9 L70.1,2041.5 L72.2,2042.9 L48.3,2042.9 L50.4,2041.5Z"/>
<path d="M50.8,2033.3 L56.8,2030 L59.3,2025 L60.1,2021.1 L61.3,2021.1 L62,2025 L64.5,2030 L70.4,2033.3Z"/>
<circle cx="113.3" cy="2068.8" r="3.8"/>
<path d="M110.1,2071.5 C103,2076.9 103,2093 100.3,2105.5 C100.3,2110.9 104.8,2111.7 105.7,2114.4 C105.7,2121.6 103,2123.4 99.4,2128.7 L127.1,2128.7 C121.7,2123.4 119.1,2119.8 119.4,2113.5 C124.4,2107.3 124.4,2093 122.6,2084 C121.7,2076.9 119.1,2073.3 116.6,2071.5 Z"/>
<path d="M127.3,2072.1 L128.7,2072.6 L124.4,2092.1 L123,2091.5Z"/>
<path d="M165.6,2128.7 L168.2,2118 L170.9,2113 L177.2,2112.3 L179,2109.1 L175.4,2108.2 L179.9,2103.7 L181.6,2098.3 L208.5,2098.3 L210.3,2103.7 L214.7,2108.2 L211.1,2109.1 L212.9,2112.3 L219.2,2113 L221.9,2118 L223.7,2128.7Z"/>
<path d="M231,2129.7 L232.3,2119.5 L238.6,2117.4 L238,2039 L240.1,2031.6 L245.9,2028.8 L248,2017.8 L249.7,2010.4 L251.4,2017.8 L253.5,2028.8 L261.3,2031.6 L264.1,2039 L264.1,2117.4 L269.2,2119.5 L270.4,2129.7Z"/>
<path d="M283.6,2129.7 L285.7,2119.5 L291,2117.4 L292,2111.1 L288.9,2108.9 L294.2,2103.6 L293.1,2096.2 L289.5,2094.1 L295.2,2088.8 L294.2,2082.4 L291,2080.3 L296.3,2075 L295.2,2068.7 L292,2066.1 L297.3,2060.2 L296.3,2054.9 L293.1,2052.8 L303.7,2046.4 L310.1,2043.2 L311.5,2037.3 L313,2043.2 L319.6,2046.4 L330.2,2052.8 L327,2054.9 L326,2060.2 L331.3,2066.1 L328.1,2068.7 L327,2075 L332.3,2080.3 L329.1,2082.4 L328.1,2088.8 L333.8,2094.1 L330.2,2096.2 L329.1,2103.6 L334.4,2108.9 L331.3,2111.1 L332.3,2117.4 L337.6,2119.5 L339.1,2129.7Z"/>
<path d="M368.5,2129.2 C370,2119.7 373.8,2117.4 378.4,2115.9 L379.9,2060.3 C375.4,2054.2 372.3,2049.6 372,2042 C371.7,2035.2 373.8,2030.6 379.2,2028.6 L380.2,2005.5 L381.5,1993.3 L382.4,1981.1 L383.6,1981.1 L384.5,1993.3 L385.7,2005.5 L386.8,2028.6 C392.1,2030.6 394.3,2035.2 394,2042 C393.6,2049.6 390.6,2054.2 386.3,2060.3 L388.3,2115.9 C392.9,2117.4 396.7,2119.7 398.2,2129.2 Z"/>
<path fill-rule="evenodd" d="M411.4,2129.7 C413.9,2098.3 418.1,2079.3 423.9,2079.3 C429.8,2079.3 434.5,2098.3 437.4,2129.7 Z M416,2129.7 C417.5,2106.8 420.3,2089.9 422.4,2087.7 L421.3,2129.7 Z M426.6,2129.7 L425.6,2087.7 C428.7,2092 431.5,2106.8 433,2129.7 Z"/>
<path d="M457.3,2129.7 L457.3,2101.5 L463.7,2101.5 L463.7,2105.8 L474.3,2105.8 L474.3,2101.5 L481.1,2101.5 L481.1,2105.8 L491.2,2105.8 L491.2,2101.5 L497.6,2101.5 L497.6,2105.8 L507.1,2105.8 L507.1,2101.5 L513.5,2101.5 L513.5,2129.7Z"/>
</g>
<g fill="#f3d498">
<rect x="58.3" y="2106.6" width="3.6" height="4.6"/>
<rect x="58.3" y="2093.2" width="3.6" height="4.6"/>
<rect x="58.3" y="2080.6" width="3.6" height="4.6"/>
<rect x="58.3" y="2068.6" width="3.6" height="4.6"/>
<rect x="58.3" y="2056.8" width="3.6" height="4.6"/>
<rect x="58.3" y="2046.2" width="3.6" height="4.6"/>
<rect x="58.3" y="2036.4" width="3.6" height="4.6"/>
<rect x="184.3" y="2105.5" width="2.1" height="2.5"/>
<rect x="189.7" y="2105.5" width="2.1" height="2.5"/>
<rect x="196.8" y="2105.5" width="2.1" height="2.5"/>
<rect x="202.7" y="2105.5" width="2.1" height="2.5"/>
</g>
<g fill="#ead7a6">
<rect x="240.8" y="2043.2" width="20.8" height="2.3" rx="1"/>
<rect x="240.8" y="2051.3" width="20.8" height="2.3" rx="1"/>
<rect x="240.8" y="2059.3" width="20.8" height="2.3" rx="1"/>
<rect x="240.8" y="2067.4" width="20.8" height="2.3" rx="1"/>
<rect x="240.8" y="2075.5" width="20.8" height="2.3" rx="1"/>
<rect x="240.8" y="2083.5" width="20.8" height="2.3" rx="1"/>
<rect x="240.8" y="2091.6" width="20.8" height="2.3" rx="1"/>
<rect x="240.8" y="2099.6" width="20.8" height="2.3" rx="1"/>
<rect x="240.8" y="2107.7" width="20.8" height="2.3" rx="1"/>
<rect x="240.8" y="2115.7" width="20.8" height="2.3" rx="1"/>
<rect x="242.3" y="2033.7" width="17" height="6.4"/>
<rect x="298.8" y="2071.8" width="3" height="5.9"/>
<rect x="306.9" y="2071.8" width="3" height="5.9"/>
<rect x="314.9" y="2071.8" width="3" height="5.9"/>
<rect x="323" y="2071.8" width="3" height="5.9"/>
<rect x="298.8" y="2083.5" width="3" height="5.9"/>
<rect x="306.9" y="2083.5" width="3" height="5.9"/>
<rect x="314.9" y="2083.5" width="3" height="5.9"/>
<rect x="323" y="2083.5" width="3" height="5.9"/>
<rect x="298.8" y="2094.1" width="3" height="5.9"/>
<rect x="306.9" y="2094.1" width="3" height="5.9"/>
<rect x="314.9" y="2094.1" width="3" height="5.9"/>
<rect x="323" y="2094.1" width="3" height="5.9"/>
<rect x="298.8" y="2105.8" width="3" height="5.9"/>
<rect x="306.9" y="2105.8" width="3" height="5.9"/>
<rect x="314.9" y="2105.8" width="3" height="5.9"/>
<rect x="323" y="2105.8" width="3" height="5.9"/>
</g>
<path d="M1177.2,2044.5 L1266.5,2044.5 L1270.6,2033.2 L1370.2,2033.2 L1374.3,2044.5 L1464.6,2044.5 L1464.6,2063 L1440,2071.8 L1440,2121.5 L1441.4,2121.5 L1441.4,2131.8 L1356.4,2131.8 L1356.4,2121.5 L1357.8,2121.5 L1357.8,2086.6 L1359.9,2071.2 L1370.2,2070.6 L1370.2,2076.3 L1285,2076.3 L1285,2121.5 L1285.6,2121.5 L1285.6,2131.8 L1200.8,2131.8 L1200.8,2121.5 L1202.2,2121.5 L1202.2,2069.1 L1177.2,2064Z" fill="url(#gg)" stroke="#f2f4c4" stroke-width="2.2" stroke-linejoin="round"/>
<g fill="none" stroke="#ffffff" stroke-width="0.9">
<path d="M1270.6,2052.7 L1374.3,2052.7"/>
<path d="M1266.5,2044.5 L1374.3,2044.5"/>
<path d="M1370.2,2033.2 L1374.3,2052.7"/>
<path d="M1178.2,2046.6 L1266.5,2046.6"/>
<path d="M1374.3,2046.6 L1463.6,2046.6"/>
<path d="M1178.2,2063 L1202.8,2068.5"/>
<path d="M1202.8,2068.5 L1285,2068.5"/>
<path d="M1285,2068.5 L1370.2,2068.5"/>
<path d="M1440,2071.2 L1463.6,2062.6"/>
<path d="M1219.3,2076.3 L1230.6,2130.7"/>
<path d="M1242.9,2076.3 L1242.9,2130.7"/>
<path d="M1246,2076.3 L1246,2130.7"/>
<path d="M1266.5,2076.3 L1256.2,2130.7"/>
<path d="M1201.8,2121.5 L1285,2121.5"/>
<path d="M1372.2,2076.3 L1384.5,2130.7"/>
<path d="M1423.5,2069.1 L1411.2,2130.7"/>
<path d="M1356.8,2121.5 L1441,2121.5"/>
<path d="M1282.5,2033.6 L1282.5,2039.8 L1285.4,2039.8 L1285.4,2033.6"/>
<path d="M1296.3,2033.6 L1296.3,2039.8 L1299.1,2039.8 L1299.1,2033.6"/>
<path d="M1310.6,2033.6 L1310.6,2039.8 L1313.5,2039.8 L1313.5,2033.6"/>
<path d="M1329.1,2033.6 L1329.1,2039.8 L1332,2039.8 L1332,2033.6"/>
<path d="M1342.4,2033.6 L1342.4,2039.8 L1345.3,2039.8 L1345.3,2033.6"/>
<path d="M1356.8,2033.6 L1356.8,2039.8 L1359.7,2039.8 L1359.7,2033.6"/>
<rect x="1204.9" y="2086.6" width="13.3" height="34.9"/>
<path d="M1209.3,2086.6 L1209.3,2121.5"/>
<path d="M1213.8,2086.6 L1213.8,2121.5"/>
<path d="M1204.9,2092.4 L1218.2,2092.4"/>
<path d="M1204.9,2098.2 L1218.2,2098.2"/>
<path d="M1204.9,2104 L1218.2,2104"/>
<path d="M1204.9,2109.9 L1218.2,2109.9"/>
<path d="M1204.9,2115.7 L1218.2,2115.7"/>
<rect x="1269.6" y="2086.6" width="13.3" height="34.9"/>
<path d="M1274,2086.6 L1274,2121.5"/>
<path d="M1278.5,2086.6 L1278.5,2121.5"/>
<path d="M1269.6,2092.4 L1282.9,2092.4"/>
<path d="M1269.6,2098.2 L1282.9,2098.2"/>
<path d="M1269.6,2104 L1282.9,2104"/>
<path d="M1269.6,2109.9 L1282.9,2109.9"/>
<path d="M1269.6,2115.7 L1282.9,2115.7"/>
<rect x="1359.9" y="2086.6" width="12.3" height="34.9"/>
<path d="M1364,2086.6 L1364,2121.5"/>
<path d="M1368.1,2086.6 L1368.1,2121.5"/>
<path d="M1359.9,2092.4 L1372.2,2092.4"/>
<path d="M1359.9,2098.2 L1372.2,2098.2"/>
<path d="M1359.9,2104 L1372.2,2104"/>
<path d="M1359.9,2109.9 L1372.2,2109.9"/>
<path d="M1359.9,2115.7 L1372.2,2115.7"/>
<rect x="1424.6" y="2086.6" width="13.3" height="34.9"/>
<path d="M1429,2086.6 L1429,2121.5"/>
<path d="M1433.5,2086.6 L1433.5,2121.5"/>
<path d="M1424.6,2092.4 L1437.9,2092.4"/>
<path d="M1424.6,2098.2 L1437.9,2098.2"/>
<path d="M1424.6,2104 L1437.9,2104"/>
<path d="M1424.6,2109.9 L1437.9,2109.9"/>
<path d="M1424.6,2115.7 L1437.9,2115.7"/>
<path d="M1073,2146.5 L1165,2129.8 L1200.8,2129.8"/>
<path d="M1285.6,2130.6 L1356.4,2130.6" stroke-opacity="0.0"/>
<path d="M1441.4,2129.8 L1476,2129.8 L1510,2136.5"/>
</g>
<path d="M1394.8,2131.3 L1394.8,2069.1 L1396.9,2065.6 L1398.9,2069.1 L1398.9,2131.3Z" fill="#e3e6a4" stroke="#ffffff" stroke-width="0.8"/>
<rect x="1385.2" y="2077.4" width="5.5" height="43.1" fill="#ffffff"/>
<text x="1387.9" y="2083.3" font-size="5" font-style="italic" font-family="'Noto Serif CJK SC','Liberation Serif',serif" fill="#444444" text-anchor="middle">西</text>
<text x="1387.9" y="2090.3" font-size="5" font-style="italic" font-family="'Noto Serif CJK SC','Liberation Serif',serif" fill="#444444" text-anchor="middle">安</text>
<text x="1387.9" y="2097.2" font-size="5" font-style="italic" font-family="'Noto Serif CJK SC','Liberation Serif',serif" fill="#444444" text-anchor="middle">石</text>
<text x="1387.9" y="2104.2" font-size="5" font-style="italic" font-family="'Noto Serif CJK SC','Liberation Serif',serif" fill="#444444" text-anchor="middle">油</text>
<text x="1387.9" y="2111.2" font-size="5" font-style="italic" font-family="'Noto Serif CJK SC','Liberation Serif',serif" fill="#444444" text-anchor="middle">大</text>
<text x="1387.9" y="2118.2" font-size="5" font-style="italic" font-family="'Noto Serif CJK SC','Liberation Serif',serif" fill="#444444" text-anchor="middle">学</text>
</svg>
<div class="note" style="left:131px;top:1947.4px;letter-spacing:1.5px">注:</div>
<div class="note" style="top:1947.4px"><span class="n"><span class="o" style="width:13.4px;text-align:left">1</span>.</span><span class="n">2025</span>年<span class="n">8</span>月<span class="n">30</span>日<span class="n">-3<span class="o">1</span></span>日老生报到注册<span class="p" style="width:0.42em;text-indent:-0.05em">。</span><span class="n">2025</span>年<span class="n">9</span>月<span class="n">5</span>日新生报到<span class="p" style="width:0.42em;text-indent:-0.05em">。</span></div>
<div class="note" style="top:1995.7px"><span class="n"><span class="o" style="width:13.4px;text-align:left">2</span>.</span><span class="n">2025</span>年<span class="n">9</span>月<span class="n"><span class="o">1</span></span>日<span class="k">—</span><span class="n">2026</span>年<span class="n"><span class="o">1</span></span>月<span class="n"><span class="o">1</span>6</span>日安排教学工作<span class="p" style="width:0.42em;text-indent:-0.05em">。</span></div>
<div class="note" style="top:2043.9px"><span class="n"><span class="o" style="width:13.4px;text-align:left">3</span>.</span><span class="n">2026</span>年<span class="n"><span class="o">1</span></span>月<span class="n"><span class="o">1</span>7</span>日<span class="k">—</span><span class="n">2026</span>年<span class="n">2</span>月<span class="n">27</span>日<span class="p" style="width:0.5em;text-indent:-0.5em">（</span>实践教学环节按各院系教学计划执行<span class="p" style="width:0.45em;text-indent:-0.05em">）</span><span class="p" style="width:0.45em;text-indent:-0.05em">，</span><span class="n">2026</span>年<span class="n">2</span>月<span class="n"><span class="o">1</span>7</span>日春节<span class="p" style="width:0.42em;text-indent:-0.05em">。</span></div>
</body>
</html>
